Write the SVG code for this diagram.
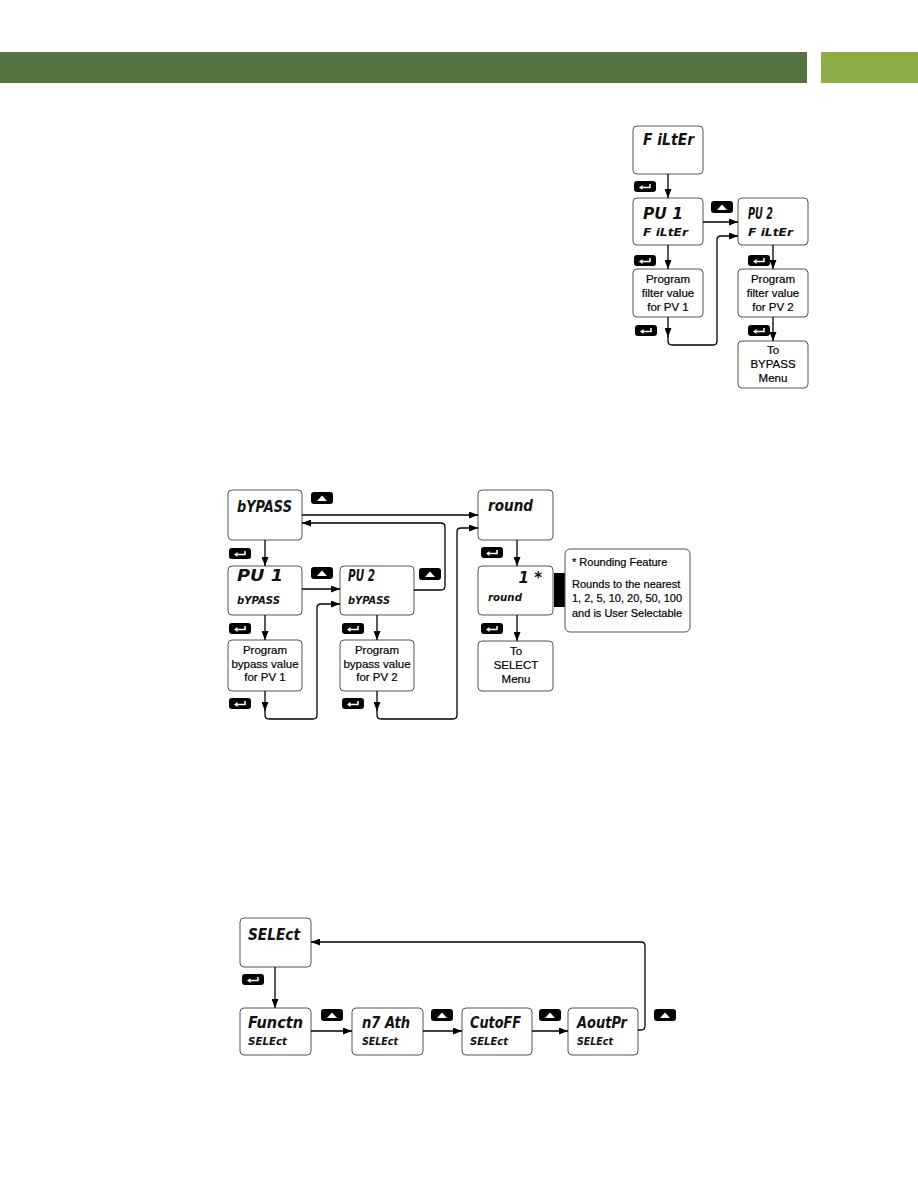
<svg xmlns="http://www.w3.org/2000/svg" width="918" height="1188" viewBox="0 0 918 1188">
<style>
.box{fill:#fff;stroke:#555;stroke-width:1;}
.ln{fill:none;stroke:#000;stroke-width:1.3;}
.arr{marker-end:url(#ah);}
.seg{font-family:"DejaVu Sans","Liberation Sans",sans-serif;font-weight:bold;font-style:italic;fill:#111;}
.big{font-size:15px;}
.sm{font-size:11px;}
.lbl{font-family:"Liberation Sans",Arial,sans-serif;font-size:11.5px;fill:#000;stroke:#000;stroke-width:0.2;text-anchor:middle;}
.note{font-family:"Liberation Sans",Arial,sans-serif;font-size:11px;fill:#000;stroke:#000;stroke-width:0.2;}
</style>
<defs>
<marker id="ah" markerUnits="userSpaceOnUse" markerWidth="9" markerHeight="7" refX="9" refY="3.5" orient="auto">
<path d="M0,0 L9,3.5 L0,7 z" fill="#000"/>
</marker>
<symbol id="enter" overflow="visible">
<rect x="0" y="0" width="22" height="11" rx="3" fill="#000"/>
<path d="M16 3 V6.5 H8" fill="none" stroke="#fff" stroke-width="1.5"/>
<path d="M5 6.5 L8.5 4 L8.5 9 z" fill="#fff"/>
</symbol>
<symbol id="up" overflow="visible">
<rect x="0" y="0" width="22" height="12" rx="3" fill="#000"/>
<path d="M6 9 L16 9 L11 3.5 z" fill="#fff"/>
</symbol>
</defs>
<rect width="918" height="1188" fill="#fff"/>
<g id="header">
<rect x="0" y="52" width="807" height="31" fill="#547341"/>
<rect x="821" y="52" width="97" height="31" fill="#8fad47"/>
</g>

<!-- FILTER SECTION -->
<g id="f-filter"><rect class="box" x="633" y="126" width="70" height="48" rx="4"/><text class="seg big" x="643" y="145" textLength="51" lengthAdjust="spacingAndGlyphs">F iLtEr</text></g>
<g id="f-pv1"><rect class="box" x="633" y="198" width="70" height="47" rx="4"/><text class="seg big" x="643" y="219" textLength="40" lengthAdjust="spacingAndGlyphs">PU 1</text><text class="seg sm" x="643" y="236" textLength="45" lengthAdjust="spacingAndGlyphs">F iLtEr</text></g>
<g id="f-pv2"><rect class="box" x="738" y="198" width="70" height="47" rx="4"/><text class="seg big" x="748" y="219" textLength="25" lengthAdjust="spacingAndGlyphs">PU 2</text><text class="seg sm" x="748" y="236" textLength="45" lengthAdjust="spacingAndGlyphs">F iLtEr</text></g>
<g id="f-prog1"><rect class="box" x="633" y="269" width="70" height="48" rx="4"/><text class="lbl" x="668" y="283">Program</text><text class="lbl" x="668" y="297">filter value</text><text class="lbl" x="668" y="311">for PV 1</text></g>
<g id="f-prog2"><rect class="box" x="738" y="269" width="70" height="48" rx="4"/><text class="lbl" x="773" y="283">Program</text><text class="lbl" x="773" y="297">filter value</text><text class="lbl" x="773" y="311">for PV 2</text></g>
<g id="f-tobypass"><rect class="box" x="738" y="341" width="70" height="47" rx="4"/><text class="lbl" x="773" y="354">To</text><text class="lbl" x="773" y="368">BYPASS</text><text class="lbl" x="773" y="382">Menu</text></g>

<!-- BYPASS SECTION -->
<g id="b-bypass"><rect class="box" x="228" y="490" width="74" height="50" rx="4"/><text class="seg big" x="237" y="512" textLength="55" lengthAdjust="spacingAndGlyphs">bYPASS</text></g>
<g id="b-pv1"><rect class="box" x="228" y="566" width="74" height="49" rx="4"/><text class="seg big" x="237" y="581" textLength="46" lengthAdjust="spacingAndGlyphs">PU 1</text><text class="seg sm" x="237" y="604" textLength="43" lengthAdjust="spacingAndGlyphs">bYPASS</text></g>
<g id="b-pv2"><rect class="box" x="340" y="566" width="74" height="49" rx="4"/><text class="seg big" x="348" y="581" textLength="27" lengthAdjust="spacingAndGlyphs">PU 2</text><text class="seg sm" x="348" y="604" textLength="42" lengthAdjust="spacingAndGlyphs">bYPASS</text></g>
<g id="b-prog1"><rect class="box" x="228" y="640" width="74" height="51" rx="4"/><text class="lbl" x="265" y="654">Program</text><text class="lbl" x="265" y="668">bypass value</text><text class="lbl" x="265" y="681">for PV 1</text></g>
<g id="b-prog2"><rect class="box" x="340" y="640" width="74" height="51" rx="4"/><text class="lbl" x="377" y="654">Program</text><text class="lbl" x="377" y="668">bypass value</text><text class="lbl" x="377" y="681">for PV 2</text></g>
<g id="b-round"><rect class="box" x="478" y="490" width="75" height="50" rx="4"/><text class="seg big" x="488" y="511" textLength="45" lengthAdjust="spacingAndGlyphs">round</text></g>
<g id="b-roundval"><rect class="box" x="478" y="566" width="75" height="49" rx="4"/><text class="seg big" x="542" y="583" text-anchor="end">1 *</text><text class="seg sm" x="488" y="601" textLength="34" lengthAdjust="spacingAndGlyphs">round</text></g>
<g id="b-toselect"><rect class="box" x="478" y="641" width="75" height="50" rx="4"/><text class="lbl" x="516" y="655">To</text><text class="lbl" x="516" y="669">SELECT</text><text class="lbl" x="516" y="683">Menu</text></g>
<g id="b-note">
<rect x="554" y="573" width="11" height="34" fill="#000"/>
<rect class="box" x="565" y="549" width="125" height="83" rx="5"/>
<text class="note" x="572" y="566">* Rounding Feature</text>
<text class="note" x="572" y="588">Rounds to the nearest</text>
<text class="note" x="572" y="602">1, 2, 5, 10, 20, 50, 100</text>
<text class="note" x="572" y="617">and is User Selectable</text>
</g>

<!-- SELECT SECTION -->
<g id="s-select"><rect class="box" x="240" y="918" width="71" height="49" rx="4"/><text class="seg big" x="248" y="940" textLength="52" lengthAdjust="spacingAndGlyphs">SELEct</text></g>
<g id="s-functn"><rect class="box" x="240" y="1008" width="71" height="47" rx="4"/><text class="seg big" x="248" y="1028" textLength="55" lengthAdjust="spacingAndGlyphs">Functn</text><text class="seg sm" x="248" y="1045" textLength="39" lengthAdjust="spacingAndGlyphs">SELEct</text></g>
<g id="s-math"><rect class="box" x="352" y="1008" width="71" height="47" rx="4"/><text class="seg big" x="362" y="1028" textLength="48" lengthAdjust="spacingAndGlyphs">n7 Ath</text><text class="seg sm" x="362" y="1045" textLength="36" lengthAdjust="spacingAndGlyphs">SELEct</text></g>
<g id="s-cutoff"><rect class="box" x="462" y="1008" width="70" height="47" rx="4"/><text class="seg big" x="470" y="1028" textLength="51" lengthAdjust="spacingAndGlyphs">CutoFF</text><text class="seg sm" x="470" y="1045" textLength="38" lengthAdjust="spacingAndGlyphs">SELEct</text></g>
<g id="s-aoutpr"><rect class="box" x="568" y="1008" width="70" height="47" rx="4"/><text class="seg big" x="577" y="1028" textLength="50" lengthAdjust="spacingAndGlyphs">AoutPr</text><text class="seg sm" x="577" y="1045" textLength="36" lengthAdjust="spacingAndGlyphs">SELEct</text></g>

<g id="keys">
<use href="#enter" x="634" y="181"/>
<use href="#up" x="711" y="201"/>
<use href="#enter" x="634" y="255"/>
<use href="#enter" x="748" y="255"/>
<use href="#enter" x="635" y="325"/>
<use href="#enter" x="748" y="325"/>
<use href="#up" x="311" y="492"/>
<use href="#enter" x="229" y="548"/>
<use href="#up" x="311" y="567"/>
<use href="#up" x="419" y="568"/>
<use href="#enter" x="229" y="623"/>
<use href="#enter" x="342" y="623"/>
<use href="#enter" x="229" y="698"/>
<use href="#enter" x="342" y="698"/>
<use href="#enter" x="481" y="547"/>
<use href="#enter" x="481" y="623"/>
<use href="#enter" x="242" y="974"/>
<use href="#up" x="321" y="1009"/>
<use href="#up" x="431" y="1009"/>
<use href="#up" x="539" y="1009"/>
<use href="#up" x="654" y="1009"/>
</g>

<g id="connectors">
<path class="ln arr" d="M668 174 V198"/>
<path class="ln arr" d="M703 222 H738"/>
<path class="ln arr" d="M668 245 V269"/>
<path class="ln arr" d="M668 317 V337"/>
<path class="ln arr" d="M668 336 V341 Q668 345 672 345 H713 Q717 345 717 341 V240 Q717 236 721 236 H738"/>
<path class="ln arr" d="M773 245 V269"/>
<path class="ln arr" d="M773 317 V341"/>

<path class="ln arr" d="M302 515 H478"/>
<path class="ln arr" d="M414 590 H441 Q445 590 445 586 V527 Q445 523 441 523 H302"/>
<path class="ln arr" d="M265 540 V566"/>
<path class="ln arr" d="M302 589 H340"/>
<path class="ln arr" d="M265 615 V640"/>
<path class="ln arr" d="M265 691 V711"/>
<path class="ln arr" d="M265 710 V715 Q265 719 269 719 H313 Q317 719 317 715 V608 Q317 604 321 604 H340"/>
<path class="ln arr" d="M377 615 V640"/>
<path class="ln arr" d="M377 691 V711"/>
<path class="ln arr" d="M377 710 V715 Q377 719 381 719 H453 Q457 719 457 715 V532 Q457 528 461 528 H478"/>
<path class="ln arr" d="M517 540 V566"/>
<path class="ln arr" d="M517 615 V641"/>

<path class="ln arr" d="M275 967 V1008"/>
<path class="ln arr" d="M311 1031 H352"/>
<path class="ln arr" d="M423 1031 H462"/>
<path class="ln arr" d="M532 1031 H568"/>
<path class="ln arr" d="M638 1030 H641 Q645 1030 645 1026 V946 Q645 942 641 942 H311"/>
</g>
</svg>
